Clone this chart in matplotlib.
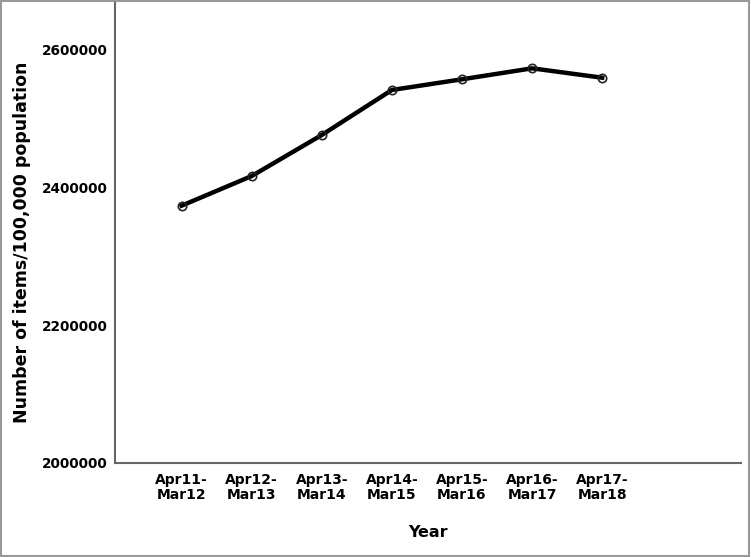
import matplotlib.pyplot as plt
import matplotlib.patches as mpatches

# Datos
years = ['Apr11-\nMar12', 'Apr12-\nMar13', 'Apr13-\nMar14', 'Apr14-\nMar15',
         'Apr15-\nMar16', 'Apr16-\nMar17', 'Apr17-\nMar18']
items = [2372900, 2415900, 2475400, 2540600, 2556100, 2572000, 2558400]
yticks = [2000000, 2200000, 2400000, 2600000]

plt.rcParams['font.family'] = ['DejaVu Sans']

fig = plt.figure(figsize=(7.51, 5.57), dpi=100)
ax = fig.add_axes([115/751, 1 - 463/557, (741-115)/751, (463-3)/557])

x = list(range(len(years)))
ax.plot(x, items, color='black', linewidth=3.2, marker='o', markersize=6,
        markerfacecolor='none', markeredgecolor='#222222', markeredgewidth=1.2)

ax.set_xlim(-0.95, 7.98)
ax.set_ylim(2000000, 2666667)
ax.set_xticks(x)
ax.set_xticklabels(years, fontsize=10, fontweight='bold', linespacing=1.15)
ax.set_yticks(yticks)
ax.set_yticklabels([str(v) for v in yticks], fontsize=9.8, fontweight='bold')
ax.tick_params(length=0)
ax.tick_params(axis='x', pad=7)
ax.tick_params(axis='y', pad=5)

for s in ['top', 'right']:
    ax.spines[s].set_visible(False)
for s in ['left', 'bottom']:
    ax.spines[s].set_color('#666666')
    ax.spines[s].set_linewidth(1.5)

ax.set_xlabel('Year', fontsize=11.5, fontweight='bold')
ax.xaxis.set_label_coords(0.5, -0.135)
ax.set_ylabel('Number of items/100,000 population', fontsize=12.5,
              fontweight='bold')
ax.yaxis.set_label_coords(-0.134, 0.48)

# Marco gris alrededor de la figura
fig.patches.append(mpatches.Rectangle((0.001, 0.002), 0.996, 0.996,
                                      transform=fig.transFigure, fill=False,
                                      edgecolor='#999999', linewidth=1.5))

plt.savefig('out.png', dpi=100)
